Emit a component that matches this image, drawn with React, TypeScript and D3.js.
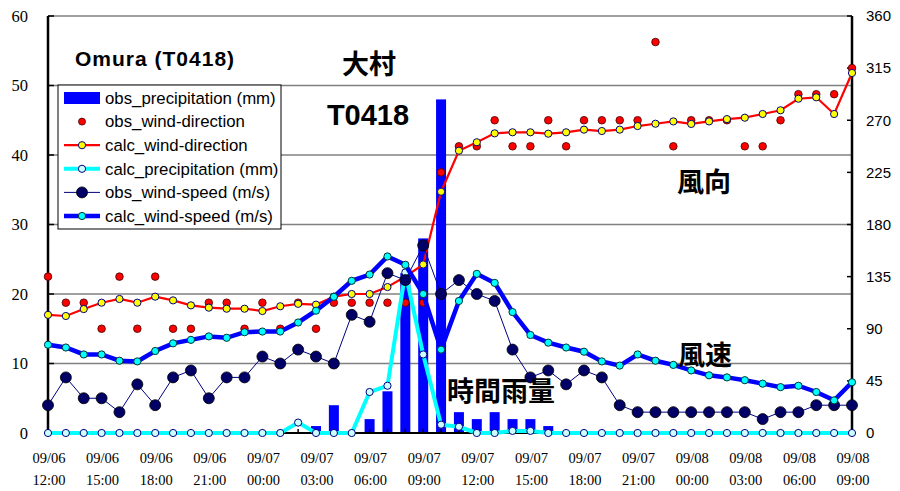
import React from 'react';
import * as d3 from 'd3';

// hourly values, 09/06 12:00 .. 09/08 09:00
const obsPrecip = [0, 0, 0, 0, 0, 0, 0, 0, 0, 0, 0, 0, 0, 0, 0, 1, 4, 0, 2, 6, 23, 28, 48, 3, 2, 3, 2, 2, 1, 0, 0, 0, 0, 0, 0, 0, 0, 0, 0, 0, 0, 0, 0, 0, 0, 0];
const obsWindDir = [135, 112.5, 112.5, 90, 135, 90, 135, 90, 90, 112.5, 112.5, 90, 112.5, 90, 112.5, 90, 112.5, 112.5, 112.5, 112.5, 112.5, 112.5, 225, 247.5, 247.5, 270, 247.5, 247.5, 270, 247.5, 270, 270, 270, 270, 337.5, 247.5, 270, 270, 270, 247.5, 247.5, 270, 292.5, 292.5, 292.5, 315];
const calcWindDir = [102, 101, 107, 112.5, 115.7, 112.5, 117.7, 114.5, 110.2, 108.2, 107.3, 107.3, 105.3, 109.4, 111.5, 110.8, 117.7, 120, 120, 126, 135, 145.5, 208.3, 243.7, 251, 258.7, 259.6, 259.6, 258.4, 259.6, 261.9, 260.7, 261.9, 265, 267, 269, 266.8, 269, 271, 272.2, 275.4, 278.6, 288.6, 289.8, 275.4, 310.8];
const calcPrecip = [0, 0, 0, 0, 0, 0, 0, 0, 0, 0, 0, 0, 0, 0, 1.5, 0, 0, 0, 5.9, 6.8, 23.1, 11.3, 1.2, 0.9, 0, 0, 0.3, 0.3, 0, 0, 0, 0, 0, 0, 0, 0, 0, 0, 0, 0, 0, 0, 0, 0, 0, 0];
const obsWindSpeed = [4, 8, 5, 5, 3, 7, 4, 8, 9, 5, 8, 8, 11, 10, 12, 11, 10, 17, 16, 23, 22, 27, 20, 22, 20, 19, 12, 8, 9, 7, 9, 8, 4, 3, 3, 3, 3, 3, 3, 3, 2, 3, 3, 4, 4, 4];
const calcWindSpeed = [12.7, 12.3, 11.3, 11.3, 10.4, 10.3, 11.8, 12.9, 13.4, 13.9, 13.7, 14.5, 14.6, 14.6, 15.9, 17.6, 19.6, 21.9, 22.8, 25.4, 24.2, 20.0, 12.0, 19.0, 22.9, 21.6, 17.4, 14.1, 13.0, 12.3, 11.7, 10.3, 9.7, 11.3, 10.4, 9.8, 9.0, 8.3, 8.0, 7.6, 7.1, 6.6, 6.8, 5.9, 4.7, 7.3];

const labelDates = ['09/06', '09/06', '09/06', '09/06', '09/07', '09/07', '09/07', '09/07', '09/07', '09/07', '09/07', '09/07', '09/08', '09/08', '09/08', '09/08'];
const labelTimes = ['12:00', '15:00', '18:00', '21:00', '00:00', '03:00', '06:00', '09:00', '12:00', '15:00', '18:00', '21:00', '00:00', '03:00', '06:00', '09:00'];
const leftTicks = [0, 10, 20, 30, 40, 50, 60];
const rightTicks = [0, 45, 90, 135, 180, 225, 270, 315, 360];

const legendItems = [
    'obs_precipitation (mm)',
    'obs_wind-direction',
    'calc_wind-direction',
    'calc_precipitation (mm)',
    'obs_wind-speed (m/s)',
    'calc_wind-speed (m/s)',
];

const serif = '"Liberation Serif", "Times New Roman", serif';
const sans = '"Liberation Sans", Arial, sans-serif';
const jp = '"Noto Sans CJK JP", sans-serif';

const App: React.FC = () => {
    const width = 900;
    const height = 491;
    const margin = { left: 48, right: 48, top: 16, bottom: 58 };

    const hours = d3.range(obsPrecip.length);
    const x = d3.scaleLinear().domain([0, hours.length - 1]).range([margin.left, width - margin.right]);
    const y = d3.scaleLinear().domain([0, 60]).range([height - margin.bottom, margin.top]);
    const yDir = d3.scaleLinear().domain([0, 360]).range([height - margin.bottom, margin.top]);

    const x0 = x(0);
    const x1 = x(hours.length - 1);
    const yBase = y(0);
    const barW = 10;

    const lineOf = (vals: number[], sc: d3.ScaleLinear<number, number>) =>
        d3.line<number>().x((d, i) => x(i)).y((d) => sc(d))(vals) || '';

    const lg = { x: 58, y: 85, w: 223, h: 144 };
    const rowY = (i: number) => lg.y + 13 + i * 23.6;

    return (
        <svg width={width} height={height} style={{ position: 'absolute', left: 0, top: 0, background: 'white' }}>
            {/* grid lines */}
            {leftTicks.filter((t) => t > 0).map((t) => (
                <line key={'g' + t} x1={x0} x2={x1} y1={y(t)} y2={y(t)} stroke="#808080" strokeWidth={1.5} />
            ))}

            {/* obs precipitation bars */}
            {obsPrecip.map((v, i) => v > 0 ? (
                <rect key={'b' + i} x={x(i) - barW / 2} y={y(v)} width={barW} height={yBase - y(v)} fill="#0000FF" />
            ) : null)}

            {/* axes */}
            <line x1={x0} x2={x1} y1={yBase} y2={yBase} stroke="black" strokeWidth={2} />
            {hours.map((i) => (
                <line key={'xt' + i} x1={x(i)} x2={x(i)} y1={yBase - 4} y2={yBase} stroke="black" strokeWidth={1.5} />
            ))}
            <line x1={x0} x2={x0} y1={y(60)} y2={yBase} stroke="black" strokeWidth={2.5} />
            {leftTicks.map((t) => (
                <g key={'lt' + t}>
                    <line x1={x0} x2={x0 + 6} y1={y(t)} y2={y(t)} stroke="black" strokeWidth={1.5} />
                    <text x={28} y={y(t)} dy="0.35em" textAnchor="end" fontFamily={serif} fontSize={16.5}>{t}</text>
                </g>
            ))}
            <line x1={x1} x2={x1} y1={yDir(360)} y2={yBase} stroke="black" strokeWidth={2.5} />
            {rightTicks.map((t) => (
                <g key={'rt' + t}>
                    <line x1={x1 - 5} x2={x1} y1={yDir(t)} y2={yDir(t)} stroke="black" strokeWidth={1.5} />
                    <text x={866} y={yDir(t)} dy="0.35em" fontFamily={sans} fontSize={15}>{t}</text>
                </g>
            ))}
            {labelTimes.map((t, k) => (
                <g key={'xl' + k} fontFamily={serif} fontSize={14.5} textAnchor="middle">
                    <text x={x(k * 3) + 1} y={463}>{labelDates[k]}</text>
                    <text x={x(k * 3) + 1} y={485}>{t}</text>
                </g>
            ))}

            {/* obs wind direction */}
            {obsWindDir.map((v, i) => (
                <circle key={'od' + i} cx={x(i)} cy={yDir(v)} r={3.8} fill="#FF0000" stroke="#400000" strokeWidth={0.8} />
            ))}

            {/* calc wind direction */}
            <path d={lineOf(calcWindDir, yDir)} fill="none" stroke="#FF0000" strokeWidth={2.2} />
            {calcWindDir.map((v, i) => (
                <circle key={'cd' + i} cx={x(i)} cy={yDir(v)} r={3.6} fill="#FFFF00" stroke="#000080" strokeWidth={1} />
            ))}

            {/* calc precipitation */}
            <path d={lineOf(calcPrecip, y)} fill="none" stroke="#00FFFF" strokeWidth={4} />
            {calcPrecip.map((v, i) => (
                <circle key={'cp' + i} cx={x(i)} cy={y(v)} r={3.6} fill="#CCFFFF" stroke="#000080" strokeWidth={1} />
            ))}

            {/* obs wind speed */}
            <path d={lineOf(obsWindSpeed, y)} fill="none" stroke="#000080" strokeWidth={1} />
            {obsWindSpeed.map((v, i) => (
                <circle key={'os' + i} cx={x(i)} cy={y(v)} r={5.5} fill="#000066" stroke="#000000" strokeWidth={0.8} />
            ))}

            {/* calc wind speed */}
            <path d={lineOf(calcWindSpeed, y)} fill="none" stroke="#0000FF" strokeWidth={4.5} />
            {calcWindSpeed.map((v, i) => (
                <circle key={'cs' + i} cx={x(i)} cy={y(v)} r={3.6} fill="#00FFFF" stroke="#003333" strokeWidth={1} />
            ))}

            {/* annotations */}
            <text x={75} y={59} dy="0.35em" fontFamily={sans} fontWeight="bold" fontSize={21} letterSpacing={1}>Omura (T0418)</text>
            <text x={369} y={65} dy="0.35em" textAnchor="middle" fontFamily={jp} fontWeight="bold" fontSize={27}>大村</text>
            <text x={368} y={115} dy="0.36em" textAnchor="middle" fontFamily={sans} fontWeight="bold" fontSize={29}>T0418</text>
            <text x={704} y={183} dy="0.35em" textAnchor="middle" fontFamily={jp} fontWeight="bold" fontSize={27}>風向</text>
            <text x={705} y={356} dy="0.35em" textAnchor="middle" fontFamily={jp} fontWeight="bold" fontSize={27}>風速</text>
            <text x={501} y={392} dy="0.35em" textAnchor="middle" fontFamily={jp} fontWeight="bold" fontSize={27}>時間雨量</text>

            {/* legend */}
            <rect x={lg.x} y={lg.y} width={lg.w} height={lg.h} fill="white" stroke="black" strokeWidth={1} />
            <rect x={64} y={rowY(0) - 6} width={36} height={12} fill="#0000FF" />
            <circle cx={82} cy={rowY(1)} r={3.5} fill="#FF0000" stroke="#400000" strokeWidth={0.8} />
            <line x1={64} x2={100} y1={rowY(2)} y2={rowY(2)} stroke="#FF0000" strokeWidth={2.2} />
            <circle cx={82} cy={rowY(2)} r={3.6} fill="#FFFF00" stroke="#000080" strokeWidth={1} />
            <line x1={64} x2={100} y1={rowY(3)} y2={rowY(3)} stroke="#00FFFF" strokeWidth={4} />
            <circle cx={82} cy={rowY(3)} r={3.6} fill="#CCFFFF" stroke="#000080" strokeWidth={1} />
            <line x1={64} x2={100} y1={rowY(4)} y2={rowY(4)} stroke="#000080" strokeWidth={1} />
            <circle cx={82} cy={rowY(4)} r={5.5} fill="#000066" stroke="#000000" strokeWidth={0.8} />
            <line x1={64} x2={100} y1={rowY(5)} y2={rowY(5)} stroke="#0000FF" strokeWidth={4.5} />
            <circle cx={82} cy={rowY(5)} r={3.6} fill="#00FFFF" stroke="#003333" strokeWidth={1} />
            {legendItems.map((t, i) => (
                <text key={'lg' + i} x={105} y={rowY(i)} dy="0.35em" fontFamily={sans} fontSize={16.8}>{t}</text>
            ))}
        </svg>
    );
};

export default App;
